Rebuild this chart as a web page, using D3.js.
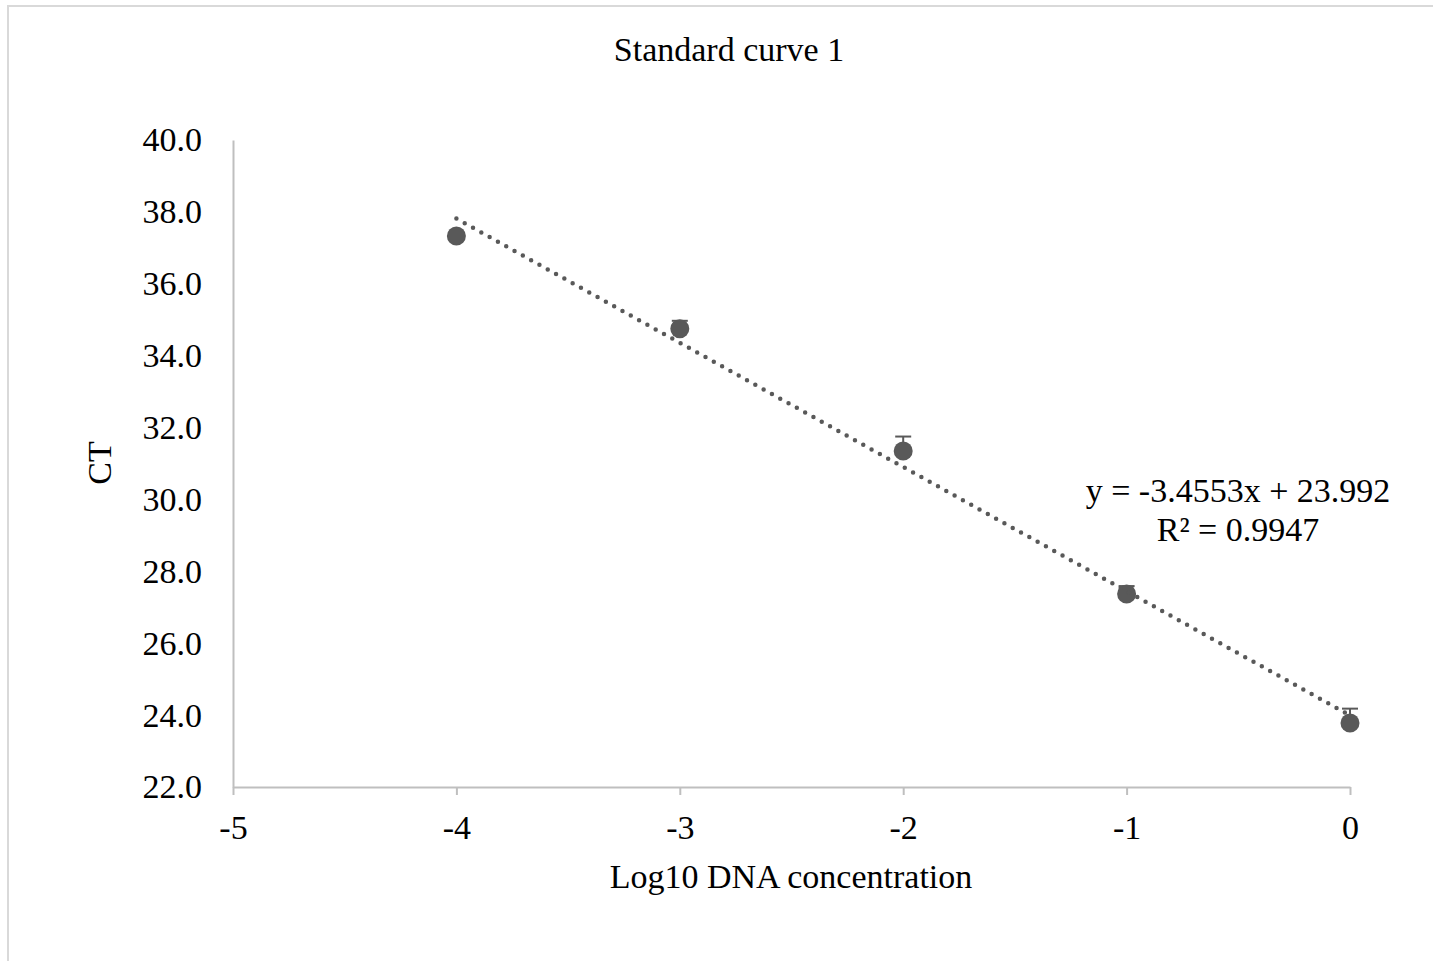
<!DOCTYPE html>
<html>
<head>
<meta charset="utf-8">
<script src="https://cdn.jsdelivr.net/npm/d3@7"></script>
<style>
	body { margin: 0; background: #fff; }
	text { font-family: "Liberation Serif", "Times New Roman", serif; fill: #000; }
</style>
</head>
<body>
<svg id="chart" width="1433" height="961"></svg>
<script>
"use strict";

// Data
const logConc = [-4, -3, -2, -1, 0];
const ctMean = [37.33, 34.75, 31.35, 27.37, 23.78];
const ctErr = [0.05, 0.22, 0.4, 0.22, 0.4];
const xTicks = [-5, -4, -3, -2, -1, 0];
const yTicks = [22, 24, 26, 28, 30, 32, 34, 36, 38, 40];
const slope = -3.4553;
const intercept = 23.992;
const rSquared = 0.9947;

const svg = d3.select('#chart');
const grey = '#595959';
const axisGrey = '#bfbfbf';

// outer frame (light border, runs off right and bottom)
svg.append('path')
	.attr('d', 'M8,961 V6 H1433')
	.attr('fill', 'none')
	.attr('stroke', '#d9d9d9')
	.attr('stroke-width', 2);

const x = d3.scaleLinear().domain([-5, 0]).range([233, 1350]);
const y = d3.scaleLinear().domain([22, 40]).range([787, 140]);

// y axis
const yAxis = svg.append('g')
	.attr('transform', `translate(${x(-5)},0)`)
	.call(d3.axisLeft(y).tickValues(yTicks).tickSize(0).tickPadding(31).tickFormat(d3.format('.1f')));
yAxis.select('.domain').attr('stroke', axisGrey).attr('stroke-width', 2);
yAxis.selectAll('text').style('font-size', '34px').attr('font-family', null);

// x axis (plain hyphen for negatives, like the original)
const xAxis = svg.append('g')
	.attr('transform', `translate(0,${y(22)})`)
	.call(d3.axisBottom(x).tickValues(xTicks).tickSizeInner(8).tickSizeOuter(0).tickPadding(20).tickFormat(d => String(d)));
xAxis.select('.domain').attr('stroke', axisGrey).attr('stroke-width', 2);
xAxis.selectAll('.tick line').attr('stroke', axisGrey).attr('stroke-width', 2);
xAxis.selectAll('text').style('font-size', '34px').attr('font-family', null);

// titles
svg.append('text')
	.attr('x', 729).attr('y', 61)
	.attr('text-anchor', 'middle')
	.style('font-size', '34px')
	.text('Standard curve 1');

svg.append('text')
	.attr('x', 791).attr('y', 888)
	.attr('text-anchor', 'middle')
	.style('font-size', '34px')
	.text('Log10 DNA concentration');

svg.append('text')
	.attr('transform', 'translate(111,463) rotate(-90)')
	.attr('text-anchor', 'middle')
	.style('font-size', '34px')
	.text('CT');

// error bars (upper only)
const points = logConc.map((c, i) => ({x: c, y: ctMean[i], e: ctErr[i]}));

const bars = svg.append('g').selectAll('g')
	.data(points)
	.enter()
	.append('g');
bars.append('line')
	.attr('x1', d => x(d.x)).attr('x2', d => x(d.x))
	.attr('y1', d => y(d.y)).attr('y2', d => y(d.y + d.e))
	.attr('stroke', grey).attr('stroke-width', 2);
bars.append('line')
	.attr('x1', d => x(d.x) - 8).attr('x2', d => x(d.x) + 8)
	.attr('y1', d => y(d.y + d.e)).attr('y2', d => y(d.y + d.e))
	.attr('stroke', grey).attr('stroke-width', 2);

// markers
svg.append('g').selectAll('circle')
	.data(points)
	.enter()
	.append('circle')
	.attr('cx', d => x(d.x))
	.attr('cy', d => y(d.y))
	.attr('r', 9.5)
	.style('fill', grey);

// linear trendline, dotted
svg.append('line')
	.attr('x1', x(-4)).attr('y1', y(slope * -4 + intercept))
	.attr('x2', x(0)).attr('y2', y(intercept))
	.attr('stroke', grey)
	.attr('stroke-width', 4.5)
	.attr('stroke-linecap', 'round')
	.attr('stroke-dasharray', '0 9.5');

// equation label
const eq = svg.append('text')
	.attr('x', 1238)
	.attr('text-anchor', 'middle')
	.style('font-size', '34px');
eq.append('tspan').attr('x', 1238).attr('y', 502)
	.text(`y = ${slope}x + ${intercept}`);
eq.append('tspan').attr('x', 1238).attr('y', 541)
	.text(`R² = ${rSquared}`);
</script>
</body>
</html>
